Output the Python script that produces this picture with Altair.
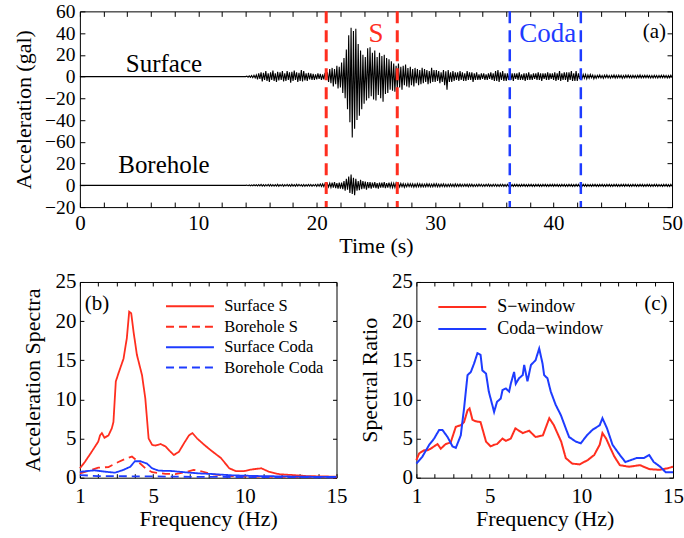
import altair as alt
import pandas as pd

FONT = "Liberation Serif"
RED = "#ff2e1f"
BLUE = "#1e3cff"

# ---------------- Panel (a): acceleration traces ----------------
TRACE_T0 = 14.0   # first sample time (s); trace is flat at 0 before this
TRACE_DT = 0.1    # sample spacing (s)

surface_acc = [
    0, 0.4, -0.5, 0.7, -0.6, 0.9, -1.0, 1.2, -1.1, 1.5,
    -2.5, 3, -2, 4, -4.5, 3.5, -3, 5, -4, 3,
    -5, 4, -3, 5.5, -4, 3, -5, 4.5, -3.5, 4,
    -3, 5, -4.5, 3, -4, 5, -3, 4, -5.5, 4.5,
    -4, 5.5, -3, 4, -5, 3.5, -4, 6, -4.5, 5,
    -3.5, 3, -4, 3.5, -2.5, 3, -3, 2.5, -3, 2,
    -2.5, 3, -2, 2.5, -3, 2, -2.5, 3.5, -3, 4,
    -5, 7, -6, 8, -9, 7, -7, 10, -11, 9,
    -10, 13, -15, 17, -20, 25, -30, 38, -42, 45,
    -56, 42, -48, 44, -40, 30, -36, 24, -30, 20,
    -25, 18, -22, 26, -20, 27, -18, 22, -21, 24,
    -22, 18, -17, 22, -20, 19, -23, 20, -16, 17,
    -15, 16, -12, 14, -13, 12, -14, 10, -11, 12,
    -10, 9, -12, 10, -8, 11, -9, 8, -10, 9,
    -8, 7, -9, 8, -6, 7, -8, 6, -7, 8,
    -6, 7, -5, 6, -7, 5, -6, 8, -5, 6,
    -5, 6, -4, 5, -6, 4, -5, 6, -8, 5,
    -12, 6, -5, 4, -5, 5, -4, 4, -3, 4,
    -4, 5, -3, 4, -4, 3, -4, 5, -3, 4,
    -3, 4, -5, 3, -3, 4, -3, 2, -3, 3,
    -2, 3, -3, 2, -3, 3, -2, 4, -3, 3,
    -4, 5, -4, 6, -5, 4, -3, 5, -4, 3,
    -4, 3, -3, 4, -3, 3, -4, 3, -2, 3,
    -3, 4, -3, 2, -3, 3, -4, 3, -3, 4,
    -3, 2, -3, 3, -2, 3, -3, 4, -3, 3,
    -4, 3, -2, 3, -3, 4, -3, 3, -2, 3,
    -3, 4, -4, 3, -3, 5, -4, 3, -3, 4,
    -3, 4, -5, 4, -3, 5, -4, 3, -4, 5,
    -4, 3, -2, 2, -2, 2, -1.5, 2, -2, 1.5,
    -1.5, 2, -1, 1.5, -2, 1, -1.5, 1.2, -1, 1.5,
    -1.2, 1, -1.5, 1.3, -1, 1.5, -1.2, 1, -1.4, 1.2,
    -1, 1.5, -1.3, 1.1, -1.2, 1.4, -1, 1.2, -1.5, 1,
    -1.2, 1.3, -1, 1.4, -1.1, 1, -1.3, 1.2, -1, 1.1,
    -1.3, 1.2, -1, 1.5, -1.2, 1, -1.1, 1.3, -1, 1.2,
    -1, 1.1, -1.2, 1, -1.3, 1.2, -1, 1.1, -1.2, 1,
    -1.1, 1.2, -1, 1.3, -1.1, 1, -1.2, 1.1, -1, 1.2,
    -0.8,
]

borehole_acc = [
    0, 0.2, -0.3, 0.3, -0.4, 0.3, -0.4, 0.5, -0.4, 0.5,
    -0.6, 0.7, -0.5, 0.8, -0.7, 0.6, -0.8, 0.7, -0.6, 0.8,
    -0.7, 0.9, -0.6, 0.7, -0.8, 0.6, -0.7, 0.9, -0.8, 0.7,
    -0.6, 0.8, -0.9, 0.7, -0.6, 0.8, -0.7, 0.6, -0.8, 0.9,
    -0.7, 0.6, -0.8, 0.9, -0.7, 0.8, -0.6, 0.7, -0.9, 0.8,
    -0.8, 0.7, -0.6, 0.9, -0.7, 0.8, -0.9, 0.7, -0.6, 0.8,
    -0.9, 1, -0.8, 1.2, -1, 1.3, -1.1, 1.5, -1.2, 1.4,
    -1.5, 2, -1.8, 2.5, -2, 3, -2.5, 2, -3, 2.5,
    -3, 2.5, -3.5, 4, -5, 6, -4, 8, -7, 10,
    -8, 7, -9, 6, -5, 4, -4.5, 5, -3.5, 4,
    -3, 3.5, -4, 3, -2.5, 3, -3, 2.5, -2, 3,
    -2.5, 2, -3, 2.5, -2, 2.5, -2, 3, -2.5, 2,
    -2, 2.5, -1.8, 2, -2.2, 1.8, -2, 2.2, -1.5, 1.8,
    -1.5, 1.8, -1.2, 1.5, -1.8, 1.2, -1.4, 1.6, -1.2, 1.4,
    -1.3, 1.5, -1.6, 1.2, -1.4, 1.7, -1.2, 1.4, -1.5, 1.3,
    -1.4, 1.2, -1.3, 1.5, -1.1, 1.3, -1.4, 1.2, -1.3, 1.5,
    -1.2, 1.4, -1.3, 1.1, -1.4, 1.2, -1.1, 1.3, -1.2, 1,
    -1.3, 1.1, -1, 1.2, -1.1, 1, -1.2, 1.3, -1, 1.1,
    -1, 1.2, -1.1, 0.9, -1, 1.1, -0.9, 1, -1.2, 1,
    -0.9, 1, -1.1, 0.8, -1, 0.9, -1, 1.1, -0.8, 1,
    -1, 0.8, -0.9, 1, -0.8, 1.1, -0.9, 0.8, -1, 0.9,
    -0.8, 1, -0.9, 0.8, -1, 0.9, -0.8, 1, -0.9, 0.8,
    -1, 0.9, -0.8, 1, -0.9, 0.8, -1, 0.9, -0.8, 1,
    -0.9, 0.8, -1, 0.9, -0.8, 1, -0.9, 0.8, -1, 0.9,
    -0.8, 1, -0.9, 0.8, -1, 0.9, -0.8, 1, -0.9, 0.8,
    -1, 0.9, -0.8, 1, -0.9, 0.8, -1, 0.9, -0.8, 1,
    -0.9, 1, -0.8, 0.9, -1, 0.8, -0.9, 1, -0.8, 0.9,
    -1, 0.8, -0.9, 1, -0.8, 0.9, -1, 0.8, -0.9, 1,
    -0.8, 0.9, -1, 0.8, -0.9, 1, -0.8, 0.9, -1, 0.8,
    -0.9, 0.8, -1, 0.9, -0.8, 1, -0.9, 0.8, -1, 0.9,
    -0.8, 1, -0.9, 0.8, -1, 0.9, -0.8, 1, -0.9, 0.8,
    -1, 0.9, -0.8, 1, -0.9, 0.8, -1, 0.9, -0.8, 1,
    -0.9, 1, -0.8, 0.9, -1, 0.8, -0.9, 1, -0.8, 0.9,
    -1, 0.8, -0.9, 1, -0.8, 0.9, -1, 0.8, -0.9, 1,
    -0.8, 0.9, -1, 0.8, -0.9, 1, -0.8, 0.9, -1, 0.8,
    -0.9, 0.8, -1, 0.9, -0.8, 1, -0.9, 0.8, -1, 0.9,
    -0.8,
]

BOREHOLE_SHIFT = -100          # borehole trace drawn 100 gal below the surface trace
s_window = [20.8, 26.8]
coda_window = [36.3, 42.3]
a_xlabels = [0, 10, 20, 30, 40, 50]
a_xticks = list(range(0, 51, 2))
a_yticks = list(range(-120, 61, 20))

# ---------------- Panel (b): acceleration spectra ----------------
b_series = ["Surface S", "Borehole S", "Surface Coda", "Borehole Coda"]
surfS_f = [1.0, 1.27, 1.64, 2.0, 2.1, 2.2, 2.34, 2.56, 2.74, 2.83, 2.96, 3.1, 3.38, 3.56, 3.69, 3.8,
           3.93, 4.11, 4.39, 4.57, 4.75, 4.94, 5.12, 5.4, 5.67, 5.95, 6.13, 6.4, 6.68, 6.95, 7.14,
           7.4, 7.78, 8.2, 8.7, 9.15, 9.5, 9.97, 10.4, 10.9, 11.3, 11.9, 12.6, 13.4, 14.1, 15.0]
surfS_v = [1.2, 2.0, 3.3, 4.6, 5.4, 5.7, 5.1, 5.4, 6.3, 7.1, 12.3, 13.3, 15.2, 17.8, 21.2, 21.0,
           18.6, 15.7, 13.1, 10.1, 5.0, 4.2, 4.1, 4.3, 4.0, 3.3, 2.9, 3.3, 4.4, 5.4, 5.7,
           5.0, 4.2, 3.4, 2.5, 1.2, 0.85, 0.85, 1.06, 1.2, 0.77, 0.43, 0.34, 0.2, 0.17, 0.13]
boreS_f = [1.0, 1.5, 2.0, 2.56, 3.1, 3.56, 3.84, 4.2, 4.57, 4.94, 5.67, 6.2, 6.77, 7.2, 7.5, 8.2, 9.3, 10.8, 15.0]
boreS_v = [0.55, 0.9, 1.28, 1.36, 2.0, 2.5, 2.7, 2.0, 1.2, 0.7, 0.5, 0.45, 0.7, 1.0, 0.9, 0.43, 0.2, 0.13, 0.05]
surfC_f = [1.0, 1.8, 2.37, 2.92, 3.38, 3.75, 4.0, 4.3, 4.66, 4.94, 5.3, 6.04, 6.77, 7.5, 8.2, 9.3, 10.8, 13.0, 15.0]
surfC_v = [0.75, 0.94, 0.77, 0.64, 1.0, 1.4, 2.1, 2.1, 1.8, 1.2, 0.9, 0.85, 0.68, 0.55, 0.47, 0.3, 0.21, 0.13, 0.09]
boreC_f = [1.0, 2.0, 4.75, 7.5, 15.0]
boreC_v = [0.34, 0.2, 0.17, 0.1, 0.05]

# ---------------- Panel (c): spectral ratios ----------------
c_series = ["S\u2212window", "Coda\u2212window"]
sw_f = [1.0, 1.15, 1.42, 1.6, 1.78, 2.15, 2.33, 2.6, 2.87, 3.15, 3.42, 3.6, 3.79, 3.9, 4.06, 4.24, 4.5,
        4.8, 5.05, 5.24, 5.4, 5.7, 5.88, 6.15, 6.4, 6.8, 7.15, 7.5, 7.9, 8.25, 8.5, 8.9, 9.15, 9.5,
        9.9, 10.35, 10.7, 11.0, 11.15, 11.35, 11.6, 11.8, 12.1, 12.6, 13.2, 13.7, 14.25, 14.7, 15.0]
sw_v = [2.25, 3.1, 3.5, 3.5, 3.7, 4.3, 3.7, 4.3, 4.5, 6.5, 6.7, 7.1, 8.6, 8.85, 7.4, 7.2, 7.1,
        4.6, 4.0, 4.2, 4.3, 5.0, 4.7, 5.0, 6.3, 5.7, 6.0, 5.2, 5.4, 7.6, 6.7, 4.6, 2.5, 1.8,
        1.7, 2.25, 2.9, 4.2, 5.7, 5.0, 3.7, 2.7, 1.6, 1.4, 1.6, 1.1, 1.0, 1.2, 1.4]
cw_f = [1.0, 1.33, 1.7, 1.97, 2.24, 2.42, 2.7, 2.97, 3.15, 3.42, 3.6, 3.79, 3.97, 4.15, 4.33, 4.5,
        4.6, 4.8, 4.95, 5.24, 5.4, 5.6, 5.7, 5.88, 6.06, 6.15, 6.33, 6.42, 6.6, 6.8, 6.88, 7.06,
        7.25, 7.5, 7.7, 7.88, 7.97, 8.15, 8.33, 8.6, 8.88, 9.15, 9.33, 9.7, 9.97, 10.3, 10.6,
        11.0, 11.15, 11.4, 11.7, 12.1, 12.4, 13.0, 13.4, 13.7, 13.95, 14.3, 14.6, 15.0]
cw_v = [1.8, 2.7, 4.2, 5.0, 6.1, 6.1, 5.2, 4.0, 3.8, 5.4, 8.85, 13.1, 13.5, 14.6, 15.9, 15.7,
        13.7, 13.3, 11.0, 8.4, 9.7, 10.1, 11.2, 11.4, 11.0, 12.0, 13.5, 12.0, 12.7, 13.1, 14.4, 12.3,
        14.4, 15.0, 16.5, 14.6, 13.1, 12.7, 11.0, 9.3, 8.0, 6.3, 5.2, 4.6, 4.4, 5.4, 6.1,
        6.7, 7.6, 6.3, 4.2, 2.9, 2.0, 2.5, 2.5, 2.9, 2.0, 1.4, 0.7, 0.7]

f_labels = [1, 5, 10, 15]
f_ticks = list(range(1, 16))
v_ticks = [0, 5, 10, 15, 20, 25]


# ---------------- build tables ----------------
def trace_table(vals, name, shift):
    t = [0.0] + [round(TRACE_T0 + i * TRACE_DT, 3) for i in range(len(vals))]
    a = [0.0] + list(vals)
    return pd.DataFrame({"t": t, "a": a, "y": [v + shift for v in a], "trace": name})


waves = pd.concat([trace_table(surface_acc, "Surface", 0),
                   trace_table(borehole_acc, "Borehole", BOREHOLE_SHIFT)], ignore_index=True)


def series_table(pairs):
    rows = []
    for name, fs_, vs_ in pairs:
        for f, v in zip(fs_, vs_):
            rows.append({"f": f, "v": v, "series": name})
    return pd.DataFrame(rows)


spec_b = series_table([(b_series[0], surfS_f, surfS_v), (b_series[1], boreS_f, boreS_v),
                       (b_series[2], surfC_f, surfC_v), (b_series[3], boreC_f, boreC_v)])
spec_c = series_table([(c_series[0], sw_f, sw_v), (c_series[1], cw_f, cw_v)])


def frame_ticks(data, xf, yf, xscale, yscale, xvals, yvals, size=5):
    common = dict(labels=False, domain=False, title=None, grid=False, ticks=True,
                  tickSize=size, tickColor="black", tickWidth=1)
    lb = alt.Chart(data).mark_line(opacity=0).encode(
        x=alt.X(xf, scale=xscale, axis=alt.Axis(orient="bottom", offset=-size, values=xvals, **common)),
        y=alt.Y(yf, scale=yscale, axis=alt.Axis(orient="left", offset=-size, values=yvals, **common)),
    )
    rt = alt.Chart(data).mark_line(opacity=0).encode(
        x=alt.X(xf, scale=xscale, axis=alt.Axis(orient="top", offset=-size, values=xvals, **common)),
        y=alt.Y(yf, scale=yscale, axis=alt.Axis(orient="right", offset=-size, values=yvals, **common)),
    )
    return [lb, rt]


# ---------------- Panel (a) chart ----------------
xs_a = alt.Scale(domain=[0, 50], nice=False, zero=False, padding=0)
ys_a = alt.Scale(domain=[-120, 60], nice=False, zero=False, padding=0)

wave = alt.Chart(waves).mark_line(color="black", strokeWidth=1.1).encode(
    x=alt.X("t:Q", scale=xs_a, axis=alt.Axis(values=a_xlabels, title="Time (s)", ticks=False,
                                             domain=False, labelPadding=5, titlePadding=2,
                                             labelFlush=False)),
    y=alt.Y("y:Q", scale=ys_a, axis=alt.Axis(
        values=a_yticks, title="Acceleration (gal)", ticks=False, domain=False,
        labelPadding=5, titlePadding=9, labelFlush=False, labelFontSize=19.5,
        labelExpr="datum.value < -70 ? format(datum.value + 100, 'd') : datum.label")),
    detail="trace:N",
)

rule_s = alt.Chart(pd.DataFrame({"t": s_window})).mark_rule(
    color=RED, strokeWidth=3, strokeDash=[12, 7]).encode(x=alt.X("t:Q", scale=xs_a, axis=None))
rule_c = alt.Chart(pd.DataFrame({"t": coda_window})).mark_rule(
    color=BLUE, strokeWidth=2.5, strokeDash=[12, 7]).encode(x=alt.X("t:Q", scale=xs_a, axis=None))

lab_traces = alt.Chart(pd.DataFrame({"t": [7.1, 7.1], "y": [4.5, -89], "txt": ["Surface", "Borehole"]})).mark_text(
    font=FONT, fontSize=25, color="black", align="center", baseline="alphabetic").encode(
    x=alt.X("t:Q", scale=xs_a, axis=None), y=alt.Y("y:Q", scale=ys_a, axis=None), text="txt:N")
lab_s = alt.Chart(pd.DataFrame({"t": [25.0], "y": [32], "txt": ["S"]})).mark_text(
    font=FONT, fontSize=27, color=RED, align="center", baseline="alphabetic").encode(
    x=alt.X("t:Q", scale=xs_a, axis=None), y=alt.Y("y:Q", scale=ys_a, axis=None), text="txt:N")
lab_coda = alt.Chart(pd.DataFrame({"t": [39.5], "y": [32], "txt": ["Coda"]})).mark_text(
    font=FONT, fontSize=27, color=BLUE, align="center", baseline="alphabetic").encode(
    x=alt.X("t:Q", scale=xs_a, axis=None), y=alt.Y("y:Q", scale=ys_a, axis=None), text="txt:N")
lab_a = alt.Chart(pd.DataFrame({"t": [49.5], "y": [41], "txt": ["(a)"]})).mark_text(
    font=FONT, fontSize=21, color="black", align="right", baseline="middle").encode(
    x=alt.X("t:Q", scale=xs_a, axis=None), y=alt.Y("y:Q", scale=ys_a, axis=None), text="txt:N")

top = alt.layer(
    wave, rule_s, rule_c, lab_traces, lab_s, lab_coda, lab_a,
    *frame_ticks(waves, "t:Q", "y:Q", xs_a, ys_a, a_xticks, a_yticks),
).properties(width=593, height=196).resolve_axis(x="independent", y="independent")

# ---------------- Panels (b) and (c) ----------------
fs = alt.Scale(domain=[1, 15], nice=False, zero=False, padding=0)
vs = alt.Scale(domain=[0, 25], nice=False, zero=False, padding=0)

# legend key: a 48-px horizontal stroke drawn to the left of a small nominal symbol box
LEGEND_KEY = "M-11,0H1"


def spectral_panel(df, series, colors, dashes, ytitle, tag, tag_f, tag_align, leg_x, leg_y,
                   leg_font, leg_gap, line_w):
    legend = alt.Legend(title=None, orient="none", legendX=leg_x, legendY=leg_y,
                        symbolType=LEGEND_KEY, symbolSize=64, symbolStrokeWidth=2,
                        labelFont=FONT, labelFontSize=leg_font, labelColor="black",
                        rowPadding=leg_gap, labelOffset=6, padding=0)
    lines = alt.Chart(df).mark_line(strokeWidth=line_w).encode(
        x=alt.X("f:Q", scale=fs, axis=alt.Axis(values=f_labels, title="Frequency (Hz)", ticks=False,
                                               domain=False, labelPadding=8, titlePadding=2,
                                               labelFlush=False)),
        y=alt.Y("v:Q", scale=vs, axis=alt.Axis(values=v_ticks, title=ytitle, ticks=False, domain=False,
                                               labelPadding=4, titlePadding=10, labelFlush=False)),
        color=alt.Color("series:N", scale=alt.Scale(domain=series, range=colors), legend=legend),
        strokeDash=alt.StrokeDash("series:N", scale=alt.Scale(domain=series, range=dashes), legend=legend),
    )
    tag_txt = alt.Chart(pd.DataFrame({"f": [tag_f], "v": [22.2], "txt": [tag]})).mark_text(
        font=FONT, fontSize=21, color="black", align=tag_align, baseline="middle").encode(
        x=alt.X("f:Q", scale=fs, axis=None), y=alt.Y("v:Q", scale=vs, axis=None), text="txt:N")
    return alt.layer(lines, tag_txt, *frame_ticks(df, "f:Q", "v:Q", fs, vs, f_ticks, v_ticks, 4)).properties(
        width=257, height=196).resolve_axis(x="independent", y="independent")


pb = spectral_panel(spec_b, b_series, [RED, RED, BLUE, BLUE], [[1, 0], [8, 5], [1, 0], [8, 5]],
                    "Acceleration Spectra", "(b)", 1.27, "left", 122, 16, 16.5, 3.5, 1.8)
pc = spectral_panel(spec_c, c_series, [RED, BLUE], [[1, 0], [1, 0]],
                    "Spectral Ratio", "(c)", 14.7, "right", 57, 16, 18, 4, 2)

bottom = alt.hconcat(pb, pc, spacing=80, bounds="flush").resolve_scale(
    color="independent", strokeDash="independent").resolve_legend(
    color="independent", strokeDash="independent")

chart = alt.vconcat(top, bottom, spacing=75, bounds="flush").resolve_scale(
    color="independent", strokeDash="independent").properties(
    padding={"left": 12, "top": 0, "right": 0, "bottom": 0}
).configure_view(stroke="black", strokeWidth=1).configure_axis(
    grid=False, labelFont=FONT, titleFont=FONT, labelColor="black", titleColor="black",
    titleFontWeight="normal", labelFontSize=21, titleFontSize=22
).configure_text(font=FONT).configure_legend(labelFont=FONT, labelColor="black")

chart.save("out.html", embed_options={"renderer": "svg", "actions": False})
